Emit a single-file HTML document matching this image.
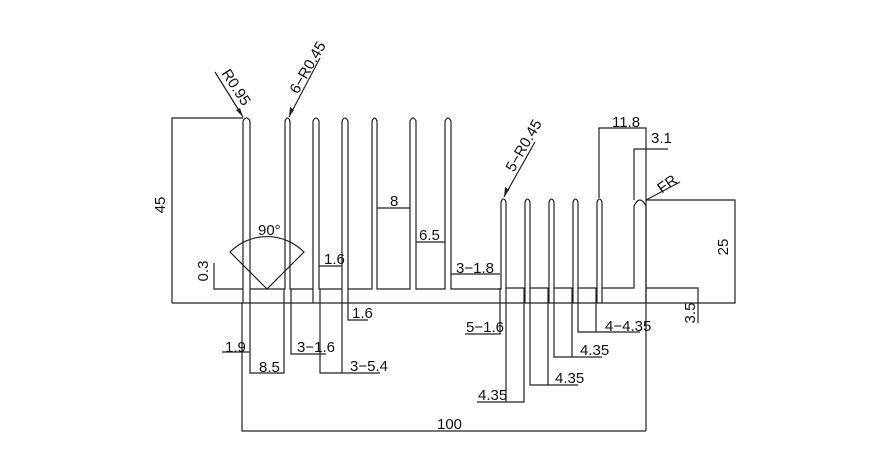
<!DOCTYPE html>
<html><head><meta charset="utf-8"><style>
html,body{margin:0;padding:0;background:#fff;}
svg{display:block}
text{font-family:"Liberation Sans",sans-serif;font-size:15px;fill:#111;}
</style></head><body>
<svg width="889" height="465" viewBox="0 0 889 465" xmlns="http://www.w3.org/2000/svg">
<g fill="none" stroke="#222" stroke-width="1.2">
<!-- left box -->
<path d="M243 118 H172 V303"/>
<!-- base bottom line -->
<path d="M172 303 H735 V200 H646"/>
<!-- fin profile left group -->
<path d="M243 289 V121 Q246.5 115 250 121 V289 H285 V121 Q287.5 115 290 121 V289 H313 V121 Q316 115 319 121 V289 H342 V121 Q345 115 348 121 V289 H372 V121 Q374.5 115 377 121 V289 H410 V121 Q413 115 416 121 V289 H445 V121 Q448 115 451 121 V289 H501 V202 Q503.5 196 506 202 V288 H525 V202 Q527.5 196 530 202 V288 H549 V202 Q551.5 196 554 202 V288 H573 V202 Q575.5 196 578 202 V288 H597 V202 Q599.5 196 602 202 V288 H634 V206 Q640 194 646 206 V303"/>
<!-- left base extensions -->
<path d="M243 289 V303 M250 289 V303"/>
<!-- 0.3 -->
<path d="M214 263 V289 H243"/>
<!-- 90 deg sector -->
<path d="M267 289 L230 252 A52 52 0 0 1 304 252 Z"/>
<!-- 8, 6.5, 1.6, 3-1.8 -->
<path d="M377 208 H410 M416 242 H445 M319 266 H342 M451 274 H500"/>
<!-- right top dims -->
<path d="M599 198 V128 H646 V431 M634 200 V149 H668 M646 288 H698 V323"/>
<!-- FR leader -->
<path d="M646 200 L680 182"/>
<!-- leaders -->
<path d="M215 72 L243 117 M320 58 L289 117 M535 142 L504 197"/>
<!-- bottom dims left -->
<path d="M242 303 V431 H646"/>
<path d="M222 352 H250 M250 303 V373 H284 V289"/>
<path d="M291 289 V354 H326 M320 289 V373 H380 M342 289 V373 M348 289 V320 H368 M313 289 V303"/>
<!-- bottom dims right -->
<path d="M500 288 V334 H465 M506 288 V402 M477 402 H524 V288 M530 288 V385 H578 M548 288 V385 M554 288 V357 H602 M572 288 V357 M578 288 V332 H640 M596 288 V332 M525 288 V303 M549 288 V303 M573 288 V303 M597 288 V303 M602 288 V303"/>
</g>
<g fill="#222">
<path d="M243 117 L236 110 L240 108 Z"/>
<path d="M289 117 L290 107 L294 110 Z"/>
<path d="M504 197 L505 187 L509 190 Z"/>
</g>
<text x="165" y="205" transform="rotate(-90 165 205)" text-anchor="middle">45</text>
<text x="208" y="271" transform="rotate(-90 208 271)" text-anchor="middle">0.3</text>
<text x="728" y="247" transform="rotate(-90 728 247)" text-anchor="middle">25</text>
<text x="695" y="313" transform="rotate(-90 695 313)" text-anchor="middle">3.5</text>
<text x="232" y="90" transform="rotate(57 232 90)" text-anchor="middle">R0.95</text>
<text x="312" y="70" transform="rotate(-60 312 70)" text-anchor="middle">6−R0.45</text>
<text x="528" y="148" transform="rotate(-60 528 148)" text-anchor="middle">5−R0.45</text>
<text x="670" y="188" transform="rotate(-35 670 188)" text-anchor="middle">FR</text>
<text x="258" y="235">90°</text>
<text x="390" y="206">8</text>
<text x="419" y="240">6.5</text>
<text x="324" y="264">1.6</text>
<text x="456" y="273">3−1.8</text>
<text x="612" y="127">11.8</text>
<text x="651" y="143">3.1</text>
<text x="225" y="352">1.9</text>
<text x="259" y="372">8.5</text>
<text x="297" y="352">3−1.6</text>
<text x="350" y="371">3−5.4</text>
<text x="352" y="318">1.6</text>
<text x="466" y="332">5−1.6</text>
<text x="478" y="400">4.35</text>
<text x="555" y="383">4.35</text>
<text x="580" y="355">4.35</text>
<text x="605" y="331">4−4.35</text>
<text x="437" y="429">100</text>
</svg>
</body></html>
